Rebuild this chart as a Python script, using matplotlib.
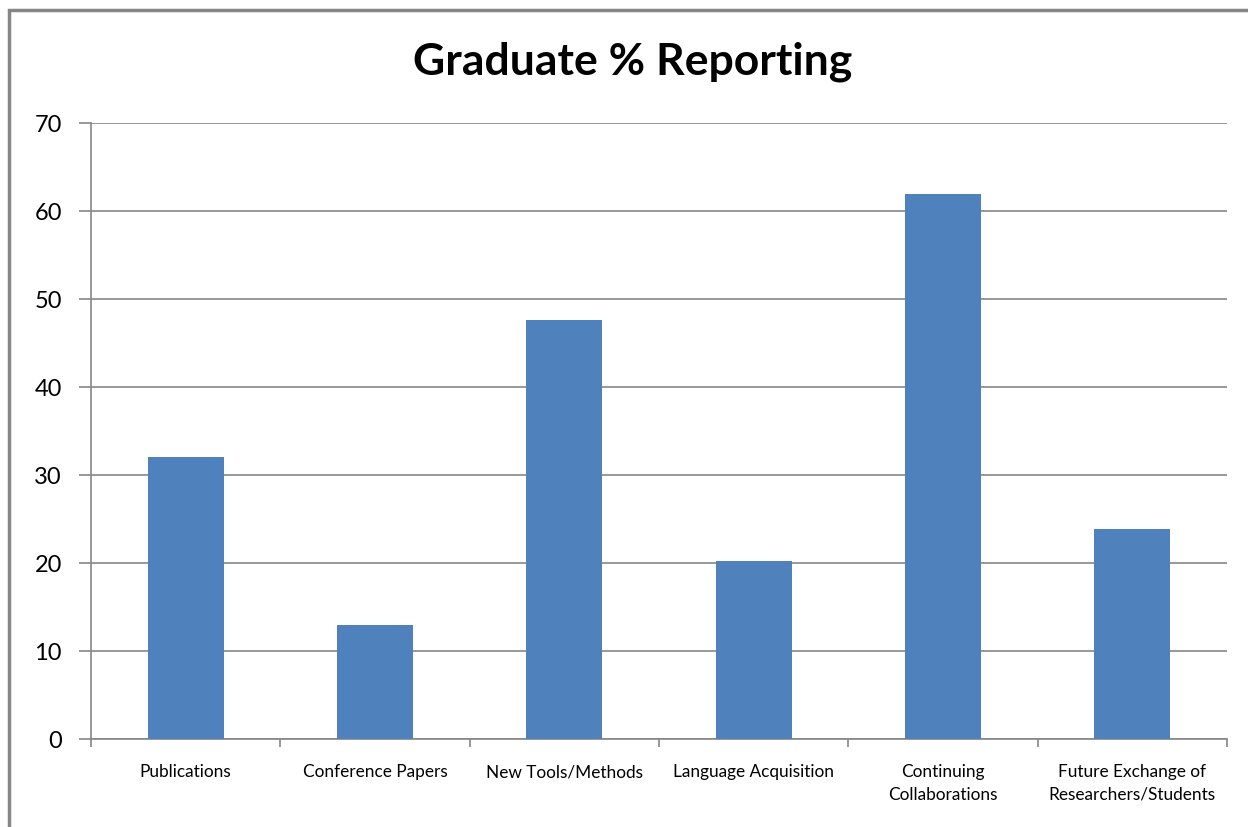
import numpy as np
import matplotlib.pyplot as plt
from matplotlib.patches import Rectangle

categories = ["Publications", "Conference Papers", "New Tools/Methods",
              "Language Acquisition", "Continuing\nCollaborations",
              "Future Exchange of\nResearchers/Students"]
values = [32.1, 13.0, 47.6, 20.2, 61.9, 23.9]
yticks = [0, 10, 20, 30, 40, 50, 60, 70]

plt.rcParams['font.family'] = ['Lato', 'DejaVu Sans']

W, H = 1248, 827
fig = plt.figure(figsize=(W / 100, H / 100), dpi=100)
ax = fig.add_axes([91 / W, 1 - 739 / H, (1227 - 91) / W, (739 - 123) / H])

grey = '#868686'
x = np.arange(len(categories))
ax.bar(x, values, width=0.4, color='#4f81bd', zorder=3)

ax.set_xlim(-0.5, len(categories) - 0.5)
ax.set_ylim(0, 70)
ax.set_yticks(yticks)
ax.set_yticklabels([str(t) for t in yticks], fontsize=17)
ax.yaxis.grid(True, color=grey, linewidth=1.2, zorder=0)
ax.tick_params(axis='y', length=9, width=1.2, color=grey, pad=12)

# category boundaries carry the tick marks, the names sit in between
ax.set_xticks(np.arange(len(categories) + 1) - 0.5)
ax.set_xticklabels([])
ax.tick_params(axis='x', length=6, width=1.2, color=grey)
ax.set_xticks(x, minor=True)
ax.set_xticklabels(categories, minor=True, fontsize=12.4, linespacing=1.5)
ax.tick_params(axis='x', which='minor', length=0, pad=18)

for s in ['top', 'right']:
    ax.spines[s].set_visible(False)
for s in ['left', 'bottom']:
    ax.spines[s].set_color(grey)
    ax.spines[s].set_linewidth(1.2)

fig.text(633 / W, 1 - 62 / H, "Graduate % Reporting", ha='center', va='center',
         fontsize=32, fontweight='bold')

fig.patches.append(Rectangle((9 / W, -0.1), 1.2, 1 - 10 / H + 0.1,
                             transform=fig.transFigure, fill=False,
                             edgecolor=grey, linewidth=2.5))

fig.savefig("out.png", dpi=100)
